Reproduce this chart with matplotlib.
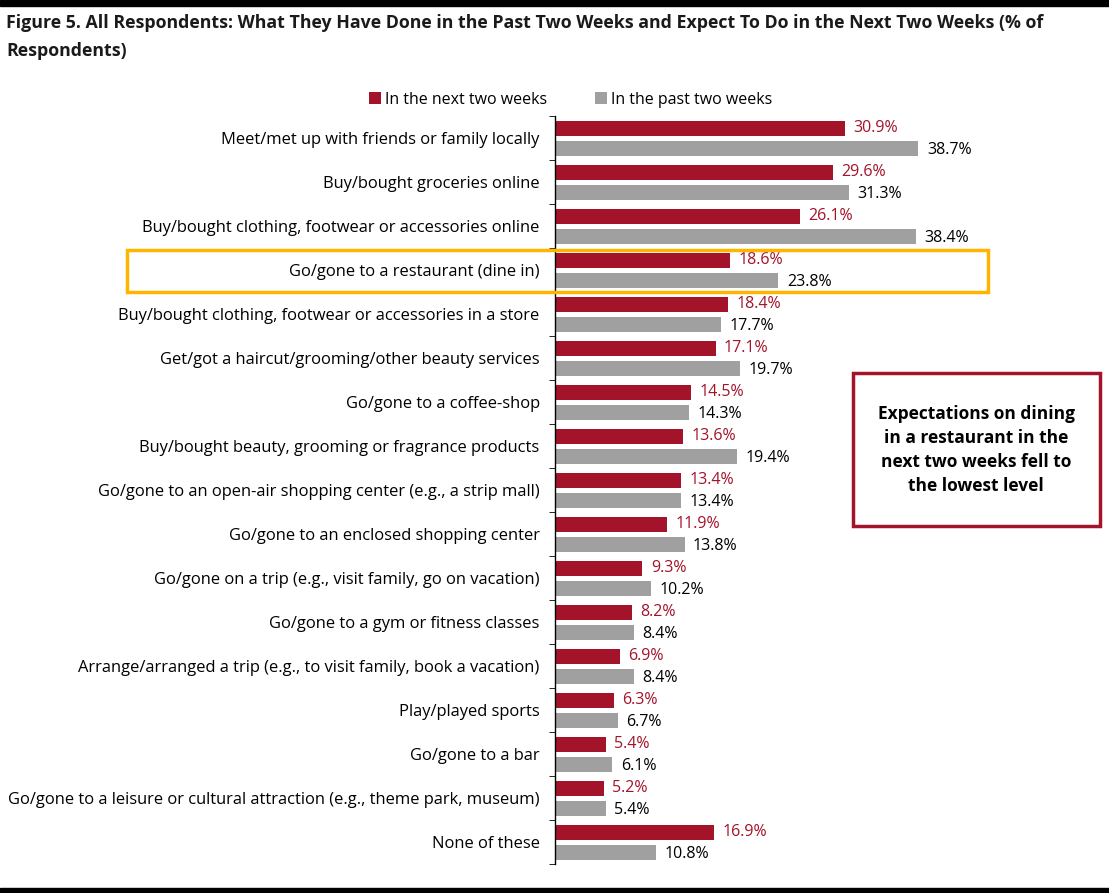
import matplotlib
matplotlib.use('Agg')
import matplotlib.pyplot as plt
from matplotlib import font_manager as fm
from matplotlib.patches import Rectangle
import numpy as np

# Data
categories = [
    'Meet/met up with friends or family locally',
    'Buy/bought groceries online',
    'Buy/bought clothing, footwear or accessories online',
    'Go/gone to a restaurant (dine in)',
    'Buy/bought clothing, footwear or accessories in a store',
    'Get/got a haircut/grooming/other beauty services',
    'Go/gone to a coffee-shop',
    'Buy/bought beauty, grooming or fragrance products',
    'Go/gone to an open-air shopping center (e.g., a strip mall)',
    'Go/gone to an enclosed shopping center',
    'Go/gone on a trip (e.g., visit family, go on vacation)',
    'Go/gone to a gym or fitness classes',
    'Arrange/arranged a trip (e.g., to visit family, book a vacation)',
    'Play/played sports',
    'Go/gone to a bar',
    'Go/gone to a leisure or cultural attraction (e.g., theme park, museum)',
    'None of these',
]
next_two_weeks = [30.9, 29.6, 26.1, 18.6, 18.4, 17.1, 14.5, 13.6, 13.4, 11.9, 9.3, 8.2, 6.9, 6.3, 5.4, 5.2, 16.9]
past_two_weeks = [38.7, 31.3, 38.4, 23.8, 17.7, 19.7, 14.3, 19.4, 13.4, 13.8, 10.2, 8.4, 8.4, 6.7, 6.1, 5.4, 10.8]

RED = '#A31329'
GRAY = '#A0A0A0'

available = {f.name for f in fm.fontManager.ttflist}
font = 'DejaVu Sans'
for name in ['Liberation Sans Narrow', 'Open Sans', 'Liberation Sans']:
    if name in available:
        font = name
        break
plt.rcParams['font.family'] = [font, 'DejaVu Sans']

W, H = 1109, 893
fig = plt.figure(figsize=(W / 100, H / 100), dpi=100)

# axes: left edge at x=555px, rows 44px apart, top at 116px
ax_left, ax_top, ax_bottom = 555, 116, 864
ax = fig.add_axes([ax_left / W, 1 - ax_bottom / H, (W - ax_left) / W, (ax_bottom - ax_top) / H])

y = np.arange(len(categories))
ax.barh(y - 0.22, next_two_weeks, height=0.34, color=RED, label='In the next two weeks')
ax.barh(y + 0.23, past_two_weeks, height=0.34, color=GRAY, label='In the past two weeks')

for i in range(len(categories)):
    ax.text(next_two_weeks[i] + 0.9, y[i] - 0.22, f'{next_two_weeks[i]:.1f}%',
            va='center', ha='left', color=RED, fontsize=11.5)
    ax.text(past_two_weeks[i] + 0.9, y[i] + 0.28, f'{past_two_weeks[i]:.1f}%',
            va='center', ha='left', color='black', fontsize=11.5)

ax.set_xlim(0, 59)
ax.set_ylim(len(categories) - 0.5, -0.5)
ax.set_yticks(y)
ax.set_yticklabels(categories, fontsize=11.9)
ax.set_yticks(np.arange(-0.5, len(categories)), minor=True)
ax.tick_params(axis='y', which='major', length=0, pad=11)
ax.tick_params(axis='y', which='minor', length=4, direction='out', color='black')
ax.set_xticks([])
for s in ['top', 'right', 'bottom']:
    ax.spines[s].set_visible(False)
ax.spines['left'].set_color('black')
ax.spines['left'].set_linewidth(1)

# Legend
ax.legend(loc='lower center', bbox_to_anchor=(571 / W, 1 - 122 / H), bbox_transform=fig.transFigure,
          ncol=2, frameon=False, fontsize=11.5, handlelength=0.7, handleheight=0.7,
          handletextpad=0.3, columnspacing=3.0)

# Title
fig.text(6 / W, 1 - 23 / H, 'Figure 5. All Respondents: What They Have Done in the Past Two Weeks and Expect To Do in the Next Two Weeks (% of',
         fontsize=12.8, fontweight='bold', color='#1a1a1a', va='center', ha='left')
fig.text(6 / W, 1 - 51 / H, 'Respondents)', fontsize=12.8, fontweight='bold', color='#1a1a1a', va='center', ha='left')

# top and bottom rules
fig.add_artist(Rectangle((0, 1 - 6 / H), 1, 6 / H, transform=fig.transFigure, color='black'))
fig.add_artist(Rectangle((0, 0), 1, 5 / H, transform=fig.transFigure, color='black'))

# highlight box around restaurant row
fig.add_artist(Rectangle((127 / W, 1 - 292 / H), (988 - 127) / W, (292 - 250) / H,
                         transform=fig.transFigure, fill=False, edgecolor='#FFB400', linewidth=2.5))

# annotation box
fig.add_artist(Rectangle((853 / W, 1 - 526 / H), (1100 - 853) / W, (526 - 373) / H,
                         transform=fig.transFigure, fill=False, edgecolor=RED, linewidth=2.5))
fig.text(976 / W, 1 - 450 / H,
         'Expectations on dining\nin a restaurant in the\nnext two weeks fell to\nthe lowest level',
         ha='center', va='center', fontsize=12.5, fontweight='bold', linespacing=1.45)

fig.savefig('out.png', dpi=100)
